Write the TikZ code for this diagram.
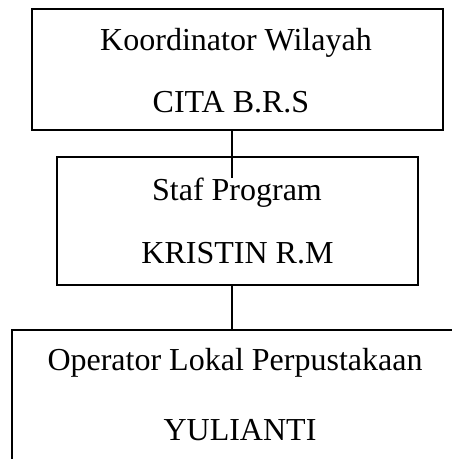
\documentclass[tikz,border=0pt]{standalone}
\usepackage{fontspec}
\setmainfont{Liberation Serif}
\begin{document}
\begin{tikzpicture}[x=1pt,y=-1pt,
  box/.style={draw=black,line width=1.8pt,rectangle,inner sep=0pt},
  lbl/.style={anchor=base,inner sep=0pt,font=\fontsize{32}{38}\selectfont},
  conn/.style={draw=black,line width=1.8pt}]
\useasboundingbox (0,0) rectangle (452,459);
\clip (0,0) rectangle (452,459);
% boxes
\node[box,minimum width=411pt,minimum height=121pt] (box1) at (237.5,69.5) {};
\node[box,minimum width=361pt,minimum height=128pt] (box2) at (237.5,221) {};
\node[box,minimum width=460pt,minimum height=150pt] (box3) at (242,405) {};
% texts
\node[lbl] (t1a) at (236,50) {Koordinator Wilayah};
\node[lbl] (t1b) at (231,112) {CITA B.R.S};
\node[lbl] (t2a) at (237,200) {Staf Program};
\node[lbl] (t2b) at (237.5,263) {KRISTIN R.M};
\node[lbl] (t3a) at (235,370) {Operator Lokal Perpustakaan};
\node[lbl] (t3b) at (240,440) {YULIANTI};
% connectors
\coordinate (c1) at (232,178);
\draw[conn] (box1.south -| c1) -- (c1);
\draw[conn] (box2.south -| c1) -- (box3.north -| c1);
\end{tikzpicture}
\end{document}
